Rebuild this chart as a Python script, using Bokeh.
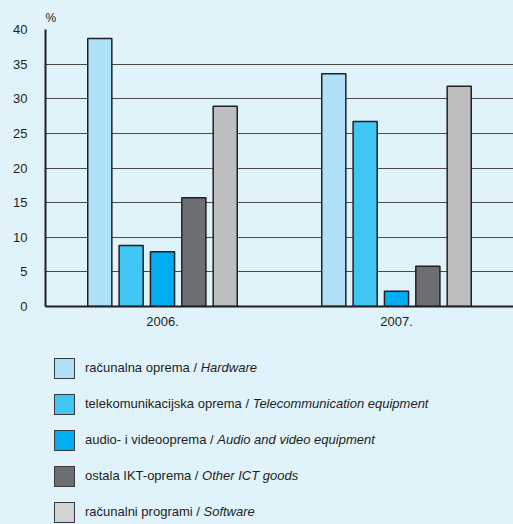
from bokeh.plotting import figure
from bokeh.models import Div, FactorRange, Range1d, FixedTicker, ColumnDataSource
from bokeh.layouts import column
from bokeh.transform import dodge
from bokeh.embed import file_html
from bokeh.resources import INLINE

# ---- data ----
years = ["2006.", "2007."]
names_hr = ["računalna oprema", "telekomunikacijska oprema", "audio- i videooprema",
            "ostala IKT-oprema", "računalni programi"]
names_en = ["Hardware", "Telecommunication equipment", "Audio and video equipment",
            "Other ICT goods", "Software"]
hardware = [38.7, 33.6]
telecom = [8.8, 26.7]
audio_video = [7.9, 2.2]
other_ict = [15.7, 5.8]
software = [28.9, 31.8]
y_ticks = [0, 5, 10, 15, 20, 25, 30, 35, 40]

series = [hardware, telecom, audio_video, other_ict, software]
bar_colors = ["#aee0f8", "#3fc6f3", "#00aeef", "#6d6e71", "#bcbec0"]
legend_colors = ["#aee0f8", "#3fc6f3", "#00aeef", "#6d6e71", "#d1d3d4"]

BG = "#e0f2fa"
INK = "#231f20"
FONT = "Liberation Sans"

p = figure(x_range=FactorRange(factors=years, range_padding=0),
           y_range=Range1d(0, 40),
           width=513, height=334,
           output_backend="svg", toolbar_location=None,
           min_border_left=45, min_border_right=0, min_border_bottom=28,
           min_border_top=29)
p.background_fill_color = BG
p.border_fill_color = BG
p.outline_line_color = None

p.title.text = "%"
p.title.text_font = FONT
p.title.text_font_size = "12px"
p.title.text_font_style = "normal"
p.title.text_color = INK
p.title.align = "left"
p.title.offset = 0
p.title.standoff = 10

step = 0.134
for i, (vals, col) in enumerate(zip(series, bar_colors)):
    src = ColumnDataSource(dict(year=years, top=vals))
    p.vbar(x=dodge("year", (i - 2) * step, range=p.x_range), top="top", width=0.103,
           source=src, fill_color=col, line_color=INK, line_width=1.5)

p.ygrid.grid_line_color = "#4a4a4a"
p.ygrid.grid_line_width = 1
p.xgrid.grid_line_color = None
p.yaxis.ticker = FixedTicker(ticks=y_ticks)

for ax in (p.xaxis[0], p.yaxis[0]):
    ax.axis_line_color = INK
    ax.axis_line_width = 2
    ax.major_tick_line_color = None
    ax.minor_tick_line_color = None
    ax.major_tick_out = 0
    ax.major_tick_in = 0
    ax.major_label_text_font = FONT
    ax.major_label_text_font_size = "13px"
    ax.major_label_text_color = INK
p.yaxis.major_label_standoff = 18
p.xaxis.major_label_standoff = 10
p.xaxis.group_text_font_size = "13px"

rows = []
for k, (hr, en, c) in enumerate(zip(names_hr, names_en, legend_colors)):
    mb = "0" if k == len(names_hr) - 1 else "15px"
    rows.append(
        f'<div style="display:flex;align-items:center;height:21px;margin-bottom:{mb};">'
        f'<span style="display:inline-block;box-sizing:border-box;width:21px;height:21px;'
        f'background:{c};border:1.5px solid #3a3a3a;margin-left:54px;margin-right:10px;"></span>'
        f'<span>{hr} / <i>{en}</i></span></div>'
    )
legend_html = (f'<div style="font-family:\'{FONT}\',Arial,sans-serif;font-size:13px;color:{INK};'
               f'padding-top:24px;">' + "".join(rows) + '</div>')
legend = Div(text=legend_html, width=513, height=190,
             styles={"background-color": BG, "margin": "0", "padding": "0"})

layout = column(p, legend, spacing=0, styles={"background-color": BG})

html = file_html(layout, INLINE)
html = html.replace("<body>", f'<body style="background-color:{BG};">', 1)
open("out.html", "w").write(html)
